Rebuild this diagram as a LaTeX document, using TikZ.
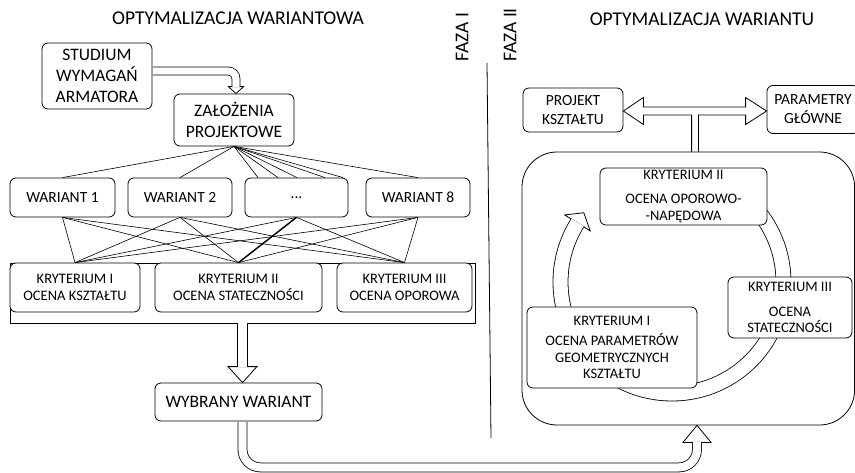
\documentclass[tikz,border=0pt]{standalone}
\usepackage{fontspec}
\setmainfont{Carlito}
\usetikzlibrary{calc}

\tikzset{
  blok/.style={draw, rounded corners=6, fill=white, align=center, inner sep=1pt,
    font=\fontsize{17.5}{21}\selectfont},
  wariant/.style={blok, font=\fontsize{15.5}{19}\selectfont},
  kryt/.style={blok, font=\fontsize{14.5}{16.5}\selectfont},
  tytul/.style={font=\fontsize{19.5}{22}\selectfont},
  podwojna/.style={double=white, double distance=#1},
  cienka/.style={line width=0.6pt},
}
\newcommand{\grot}[4]{%
  \draw[fill=white] (#1) -- ($(#1)+(#2+180:#4)+(#2+90:#3)$)
    -- ($(#1)+(#2+180:#4)+(#2-90:#3)$) -- cycle;}

\begin{document}
\begin{tikzpicture}[x=1pt, y=1pt, line width=0.8pt]
  \useasboundingbox (0,0) rectangle (855,472);
  \node[tytul] (opt1) at (238,453.5) {OPTYMALIZACJA WARIANTOWA};
  \node[tytul] (opt2) at (702,453) {OPTYMALIZACJA WARIANTU};
  \node[tytul, rotate=90] (faza1) at (462,435) {FAZA I};
  \node[tytul, rotate=90] (faza2) at (510,437) {FAZA II};
  \draw (487,409) -- (491,34);

  % faza I
  \node[blok, minimum width=110, minimum height=66] (studium) at (97,396) {STUDIUM\\WYMAGAŃ\\ARMATORA};
  \node[blok, minimum width=120, minimum height=52] (zalozenia) at (234,352) {ZAŁOŻENIA\\PROJEKTOWE};
  \node[wariant, minimum width=105, minimum height=39] (w1) at (62.5,274.5) {WARIANT 1};
  \node[wariant, minimum width=104, minimum height=39] (w2) at (180,274.5) {WARIANT 2};
  \node[wariant, minimum width=103, minimum height=39] (w3) at (296.5,274.5) {...};
  \node[wariant, minimum width=104, minimum height=39] (w8) at (418,274.5) {WARIANT 8};
  \node[draw, minimum width=465, minimum height=60, inner sep=0] (kryteria) at (242.5,179) {};
  \node[kryt, minimum width=130, minimum height=49] (k1) at (75,184.5) {KRYTERIUM I\\OCENA KSZTAŁTU};
  \node[kryt, minimum width=167, minimum height=49] (k2) at (238.5,184.5) {KRYTERIUM II\\OCENA STATECZNOŚCI};
  \node[kryt, minimum width=135, minimum height=49] (k3) at (404.5,184.5) {KRYTERIUM III\\OCENA OPOROWA};
  \node[blok, minimum width=167, minimum height=38] (wybrany) at (238.5,70) {WYBRANY WARIANT};

  \begin{scope}[cienka]
    \draw (zalozenia.south) to (w1.north);
    \draw (zalozenia.south) to (w2.north);
    \foreach \dx in {-38.5,-18.5,0.5,28.5,46.5}
      \draw (zalozenia.south) to ([xshift=\dx]w3.north);
    \draw (zalozenia.south) to (w8.north);
    \foreach \w in {w1,w2,w3,w8}
      \foreach \k in {k1,k2,k3}
        \draw (\w.south) to (\k.north);
  \end{scope}
  \draw[line width=1.4pt] (w3.south) to (k2.north);

  \coordinate (a1) at ([xshift=2]zalozenia.north);
  \grot{a1}{-90}{7.5}{7}
  \draw[podwojna=7.2, rounded corners=8] ([xshift=0.4,yshift=5]studium.east) -| ([yshift=6.4]a1);
  \coordinate (a2) at (kryteria.south |- wybrany.north);
  \grot{a2}{-90}{14.5}{16}
  \draw[podwojna=9.2] ([yshift=0.5]kryteria.south) -- ([yshift=15.4]a2);

  % faza II
  \node[draw, fill=white, rounded corners=35, minimum width=332.6, minimum height=273] (duzy) at (688.3,183.5) {};
  \coordinate (C) at (672,190);
  \draw[podwojna=14.2] ($(C)+(40:111.5)$) arc[start angle=40, end angle=-120, radius=111.5];
  \coordinate (a5) at ($(C)+(148:111.5)+(58:12)$);
  \grot{a5}{58}{15}{12}
  \draw[podwojna=14.2] ($(C)+(205:111.5)$) arc[start angle=205, end angle=147.7, radius=111.5];
  \node[kryt, minimum width=167, minimum height=57] (kII) at (683.5,275.5) {KRYTERIUM II\\[8pt]OCENA OPOROWO-\\-NAPĘDOWA};
  \node[kryt, minimum width=124, minimum height=61] (kIII) at (790,164.5) {KRYTERIUM III\\[8pt]OCENA\\STATECZNOŚCI};
  \node[kryt, minimum width=170, minimum height=81] (kI) at (612,124.5) {KRYTERIUM I\\[4pt]OCENA PARAMETRÓW\\GEOMETRYCZNYCH\\KSZTAŁTU};

  \node[wariant, minimum width=100, minimum height=44] (projekt) at (573,362) {PROJEKT\\KSZTAŁTU};
  \node[wariant, minimum width=92, minimum height=48] (parametry) at (813,362.5) {PARAMETRY\\GŁÓWNE};
  \coordinate (hub) at (695,361);
  \coordinate (stopka) at (hub |- duzy.north);
  \coordinate (a4l) at (projekt.east |- hub);
  \coordinate (a4r) at (parametry.west |- hub);
  \draw ($(stopka)+(-3.4,0)$) -- ($(hub)+(-3.4,-4)$) -- ($(a4l)+(20,-4)$) -- ++(0,-9.5)
    -- (a4l) -- ++(20,13.5) -- ++(0,-9.5) -- ($(a4r)+(-21,4)$) -- ++(0,9.5)
    -- (a4r) -- ++(-21,-13.5) -- ++(0,9.5) -- ($(hub)+(3.4,-4)$) -- ($(stopka)+(3.4,0)$);

  \coordinate (a3) at ([xshift=8.7]duzy.south);
  \grot{a3}{90}{14}{17}
  \draw[podwojna=8.2, rounded corners=18] ([xshift=4,yshift=-0.4]wybrany.south) |- ([yshift=-42]a3) -- ([yshift=-16.4]a3);
\end{tikzpicture}
\end{document}
